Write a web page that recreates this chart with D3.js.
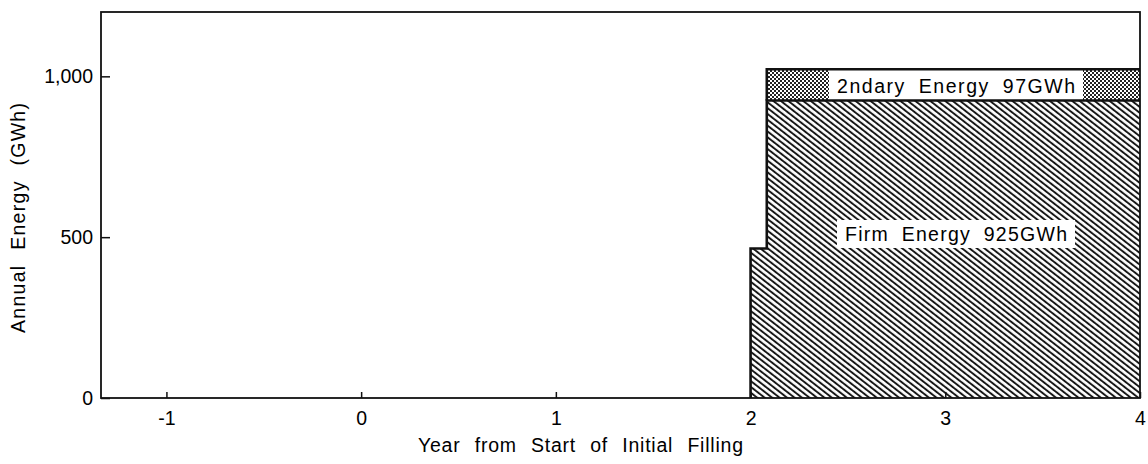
<!DOCTYPE html>
<html>
<head>
<meta charset="utf-8">
<script src="https://cdn.jsdelivr.net/npm/d3@7"></script>
<style>
  html, body { margin: 0; padding: 0; background: #fff; }
  svg { display: block; }
  text { font-family: "Liberation Sans", Arial, sans-serif; fill: #000; }
</style>
</head>
<body>
<svg id="chart" width="1148" height="464"></svg>
<script>
// Energy output by period (years from start of initial filling)
const stepYears   = [2.0, 2.0 + 1 / 12, 4.0];
const firmEnergy  = [465, 925, 925];           // GWh
const secYears    = [2.0 + 1 / 12, 4.0];
const secEnergy   = [97, 97];                  // GWh, on top of firm energy
const xTicks      = [-1, 0, 1, 2, 3, 4];
const xTickLabels = ["-1", "0", "1", "2", "3", "4"];
const yTicks      = [0, 500, 1000];
const yTickLabels = ["0", "500", "1,000"];
const firmLabel   = "Firm Energy 925GWh";
const secLabel    = "2ndary Energy 97GWh";

const svg = d3.select("#chart");
const plotL = 101, plotR = 1140, plotT = 12, plotB = 398;

const x = d3.scaleLinear().domain([-1.336, 4]).range([plotL, plotR]);
const y = d3.scaleLinear().domain([0, 1200]).range([plotB, plotT]);

// fill patterns
const defs = svg.append("defs");
const hatch = defs.append("pattern")
  .attr("id", "hatch")
  .attr("patternUnits", "userSpaceOnUse")
  .attr("width", 4.6).attr("height", 10)
  .attr("patternTransform", "rotate(-52)");
hatch.append("rect").attr("width", 4.6).attr("height", 10).attr("fill", "#fff");
hatch.append("line")
  .attr("x1", 1).attr("y1", 0).attr("x2", 1).attr("y2", 10)
  .attr("stroke", "#111").attr("stroke-width", 1.9);

const checker = defs.append("pattern")
  .attr("id", "checker")
  .attr("patternUnits", "userSpaceOnUse")
  .attr("width", 4).attr("height", 4);
checker.append("rect").attr("width", 4).attr("height", 4).attr("fill", "#fff");
checker.append("rect").attr("x", 0).attr("y", 0).attr("width", 2).attr("height", 2).attr("fill", "#222");
checker.append("rect").attr("x", 2).attr("y", 2).attr("width", 2).attr("height", 2).attr("fill", "#222");

// firm energy area
const firmData = stepYears.map((yr, i) => ({ yr, v: firmEnergy[i] }));
const firmArea = d3.area()
  .x(d => x(d.yr)).y0(y(0)).y1(d => y(d.v))
  .curve(d3.curveStepAfter);
svg.append("path").datum(firmData)
  .attr("d", firmArea).attr("fill", "url(#hatch)");

// secondary energy band stacked on firm energy
const secData = secYears.map((yr, i) => ({ yr, base: firmEnergy[1], v: firmEnergy[1] + secEnergy[i] }));
const secArea = d3.area()
  .x(d => x(d.yr)).y0(d => y(d.base)).y1(d => y(d.v))
  .curve(d3.curveStepAfter);
svg.append("path").datum(secData)
  .attr("d", secArea).attr("fill", "url(#checker)");

// in-band labels on white boxes
function boxedLabel(txt, cx, cy, size, len, boxY, boxH) {
  const t = svg.append("text")
    .attr("x", cx - len / 2).attr("y", cy)
    .attr("dominant-baseline", "central")
    .attr("font-size", size)
    .style("word-spacing", "6px")
    .attr("textLength", len).attr("lengthAdjust", "spacing")
    .text(txt);
  svg.insert("rect", () => t.node())
    .attr("x", cx - len / 2 - 8).attr("y", boxY)
    .attr("width", len + 16).attr("height", boxH)
    .attr("fill", "#fff");
}
const secTop = y(firmEnergy[1] + secEnergy[0]), secBot = y(firmEnergy[1]);
boxedLabel(secLabel, 956, (secTop + secBot) / 2 + 1, 19.5, 238, secTop, secBot - secTop);
boxedLabel(firmLabel, 956, 234, 19.5, 222, 220, 28);

// outlines
const stepLine = d3.line().x(d => x(d.yr)).y(d => y(d.v)).curve(d3.curveStepAfter);
svg.append("path")
  .datum([{ yr: stepYears[0], v: 0 }].concat(firmData))
  .attr("d", stepLine)
  .attr("fill", "none").attr("stroke", "#111").attr("stroke-width", 2.6);
svg.append("path")
  .datum([{ yr: secYears[0], v: firmEnergy[1] }].concat(secData))
  .attr("d", stepLine)
  .attr("fill", "none").attr("stroke", "#111").attr("stroke-width", 2.6);

// plot frame
svg.append("rect")
  .attr("x", plotL).attr("y", plotT)
  .attr("width", plotR - plotL).attr("height", plotB - plotT)
  .attr("fill", "none").attr("stroke", "#111").attr("stroke-width", 1.8);

// axes with inward ticks
const xAxis = d3.axisBottom(x).tickValues(xTicks)
  .tickSize(-6).tickPadding(13)
  .tickFormat((d, i) => xTickLabels[i]);
const gx = svg.append("g").attr("transform", `translate(0,${plotB})`).call(xAxis);
gx.select(".domain").remove();
gx.selectAll(".tick line").attr("stroke", "#111").attr("stroke-width", 1.5);
gx.selectAll(".tick text")
  .attr("font-size", 19.5)
  .style("font-family", "Liberation Sans, Arial, sans-serif")
  .attr("fill", "#000");

const yAxis = d3.axisLeft(y).tickValues(yTicks)
  .tickSize(-9).tickPadding(8)
  .tickFormat((d, i) => yTickLabels[i]);
const gy = svg.append("g").attr("transform", `translate(${plotL},0)`).call(yAxis);
gy.select(".domain").remove();
gy.selectAll(".tick line").attr("stroke", "#111").attr("stroke-width", 1.5);
gy.selectAll(".tick text")
  .attr("font-size", 19.5)
  .style("font-family", "Liberation Sans, Arial, sans-serif")
  .attr("fill", "#000");

// axis titles
svg.append("text")
  .attr("x", 418).attr("y", 452)
  .attr("font-size", 19.5)
  .style("word-spacing", "8px")
  .attr("textLength", 325).attr("lengthAdjust", "spacing")
  .text("Year from Start of Initial Filling");
svg.append("text")
  .attr("transform", `translate(25,${218 + 115}) rotate(-90)`)
  .attr("font-size", 19.5)
  .style("word-spacing", "8px")
  .attr("textLength", 230).attr("lengthAdjust", "spacing")
  .text("Annual Energy (GWh)");
</script>
</body>
</html>
